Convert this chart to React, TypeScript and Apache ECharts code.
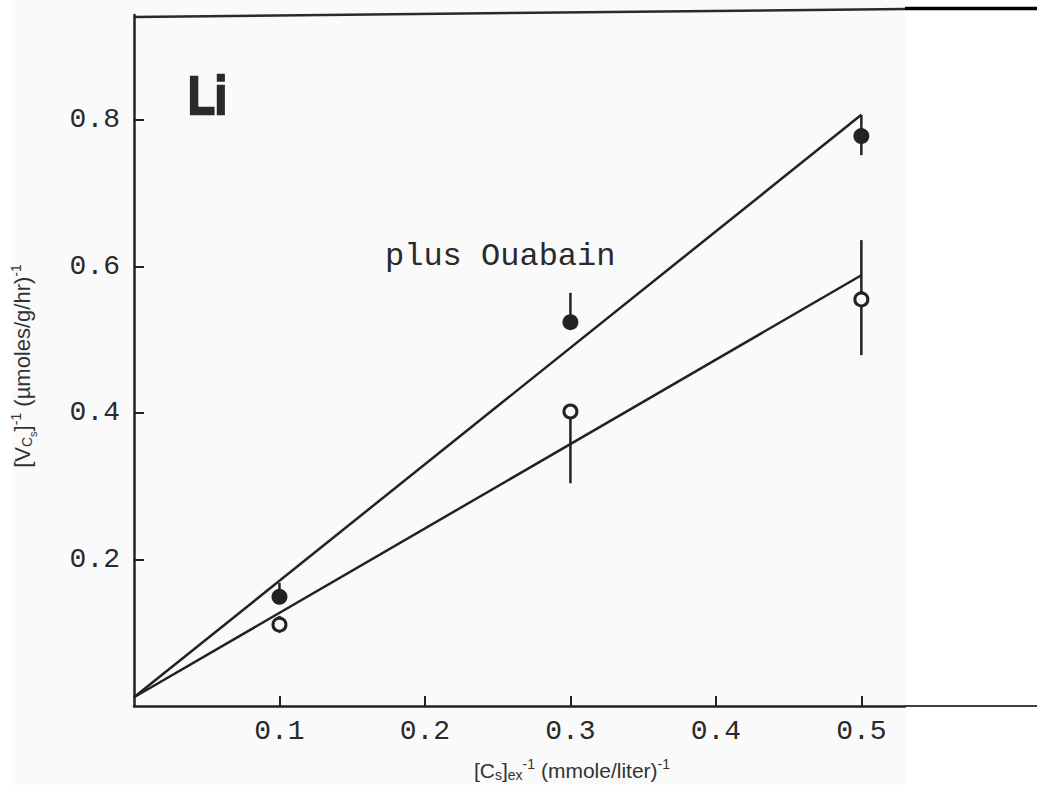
import React, { useEffect, useRef } from "react";
import * as echarts from "echarts";

// X positions (reciprocal external Cs concentration)
const xValues = [0.1, 0.3, 0.5];
// Control (open circles)
const controlMean = [0.111, 0.402, 0.555];
const controlLow = [0.1, 0.304, 0.479];
const controlHigh = [0.123, 0.402, 0.636];
// plus Ouabain (filled circles)
const ouabainMean = [0.149, 0.524, 0.778];
const ouabainLow = [0.149, 0.524, 0.752];
const ouabainHigh = [0.168, 0.564, 0.807];
// Fitted lines: [x, y] end points
const ouabainFit = [[0, 0.012], [0.5, 0.807]];
const controlFit = [[0, 0.012], [0.5, 0.588]];
// Tick labels
const xTicks = [0.1, 0.2, 0.3, 0.4, 0.5];
const yTicks = [0.2, 0.4, 0.6, 0.8];

const INK = "#222";

export default function App() {
  const ref = useRef<HTMLDivElement>(null);
  useEffect(() => {
    if (!ref.current) return;
    const chart = echarts.init(ref.current, undefined, { renderer: "svg" });
    const errData: number[][] = [];
    xValues.forEach((x, i) => {
      errData.push([x, ouabainLow[i], ouabainHigh[i]]);
      errData.push([x, controlLow[i], controlHigh[i]]);
    });
    const tickFont = {
      fontFamily: "Liberation Mono",
      fontSize: 28,
      color: "#2a2a2a",
    };
    const mk = (fs: number, lh: number, va: string, pad: number[]) => ({
      fontFamily: "Liberation Sans", fontSize: fs, lineHeight: lh, verticalAlign: va, padding: pad, color: "#333", fill: "#333",
    });
    const richX = {
      n: mk(21, 34, "middle", [0, 0, 0, 0]),
      sup: mk(14, 14, "top", [4, 0, 0, 0]),
      sub: mk(14, 14, "bottom", [0, 0, 5, 0]),
      sub2: mk(11, 11, "bottom", [0, 0, 1, 0]),
    };
    const richY = {
      n: mk(22, 34, "middle", [0, 0, 0, 0]),
      sup: mk(14, 14, "top", [4, 0, 0, 0]),
      sub: mk(14, 14, "bottom", [0, 0, 5, 0]),
      sub2: mk(11, 11, "bottom", [0, 0, 1, 0]),
    };
    chart.setOption({
      animation: false,
      backgroundColor: "#ffffff",
      grid: { left: 134, right: 132, top: 15, bottom: 79 },
      xAxis: {
        type: "value",
        min: 0,
        max: 0.53,
        splitLine: { show: false },
        axisLine: { show: true, lineStyle: { color: INK, width: 2.5 } },
        axisTick: { show: true, inside: true, length: 10, lineStyle: { color: INK, width: 2 }, customValues: xTicks },
        axisLabel: { ...tickFont, margin: 11, customValues: xTicks, formatter: (v: number) => v.toFixed(1) },
      },
      yAxis: {
        type: "value",
        min: 0,
        max: 0.9433,
        splitLine: { show: false },
        axisLine: { show: true, lineStyle: { color: INK, width: 2.5 } },
        axisTick: { show: true, inside: true, length: 10, lineStyle: { color: INK, width: 2 }, customValues: yTicks },
        axisLabel: { ...tickFont, margin: 14, customValues: yTicks, formatter: (v: number) => v.toFixed(1) },
      },
      graphic: [
        { type: "rect", z: -100, silent: true, shape: { x: 12, y: 0, width: 893, height: 785 }, style: { fill: "#fafafa" } },
        { type: "line", shape: { x1: 134, y1: 17, x2: 905, y2: 9 }, style: { stroke: "#2a2a2a", lineWidth: 2.5 } },
        { type: "line", shape: { x1: 905, y1: 8.5, x2: 1037, y2: 8.5 }, style: { stroke: "#000", lineWidth: 3.5 } },
        { type: "line", shape: { x1: 905, y1: 706, x2: 1037, y2: 706 }, style: { stroke: "#000", lineWidth: 1.5 } },
        {
          type: "text", x: 188, y: 96, scaleX: 0.83,
          style: { text: "Li", font: "bold 53px 'Liberation Sans'", fill: "#2a2a2a", stroke: "#2a2a2a", lineWidth: 2.5, align: "left", verticalAlign: "middle" },
        },
        {
          type: "text", x: 385, y: 256,
          style: { text: "plus Ouabain", font: "32px 'Liberation Mono'", fill: "#2a2a2a", align: "left", verticalAlign: "middle" },
        },
        {
          type: "text", x: 572, y: 770,
          style: {
            text: "{n|[C}{sub|s}{n|]}{sub|ex}{sup|-1}{n| (mmole/liter)}{sup|-1}",
            rich: richX, align: "center", verticalAlign: "middle",
          },
        },
        {
          type: "text", x: 22, y: 366, rotation: Math.PI / 2,
          style: {
            text: "{n|[V}{sub|C}{sub2|s}{n|]}{sup|-1}{n| (µmoles/g/hr)}{sup|-1}",
            rich: richY, align: "center", verticalAlign: "middle",
          },
        },
      ],
      series: [
        {
          type: "line", data: ouabainFit, symbol: "none", z: 2,
          lineStyle: { color: INK, width: 2.5 },
        },
        {
          type: "line", data: controlFit, symbol: "none", z: 2,
          lineStyle: { color: INK, width: 2.5 },
        },
        {
          type: "custom", z: 3, data: errData,
          renderItem: (params: any, api: any) => {
            const p1 = api.coord([api.value(0), api.value(1)]);
            const p2 = api.coord([api.value(0), api.value(2)]);
            return {
              type: "line",
              shape: { x1: p1[0], y1: p1[1], x2: p2[0], y2: p2[1] },
              style: { stroke: INK, lineWidth: 2.5 },
            };
          },
        },
        {
          type: "scatter", z: 5, symbol: "circle", symbolSize: 16,
          data: xValues.map((x, i) => [x, ouabainMean[i]]),
          itemStyle: { color: INK, opacity: 1 },
        },
        {
          type: "scatter", z: 5, symbol: "circle", symbolSize: 13,
          data: xValues.map((x, i) => [x, controlMean[i]]),
          itemStyle: { color: "#fafafa", borderColor: INK, borderWidth: 3, opacity: 1 },
        },
      ],
    });
    return () => chart.dispose();
  }, []);
  return <div ref={ref} style={{ position: "fixed", left: 0, top: 0, width: 1037, height: 785 }} />;
}
